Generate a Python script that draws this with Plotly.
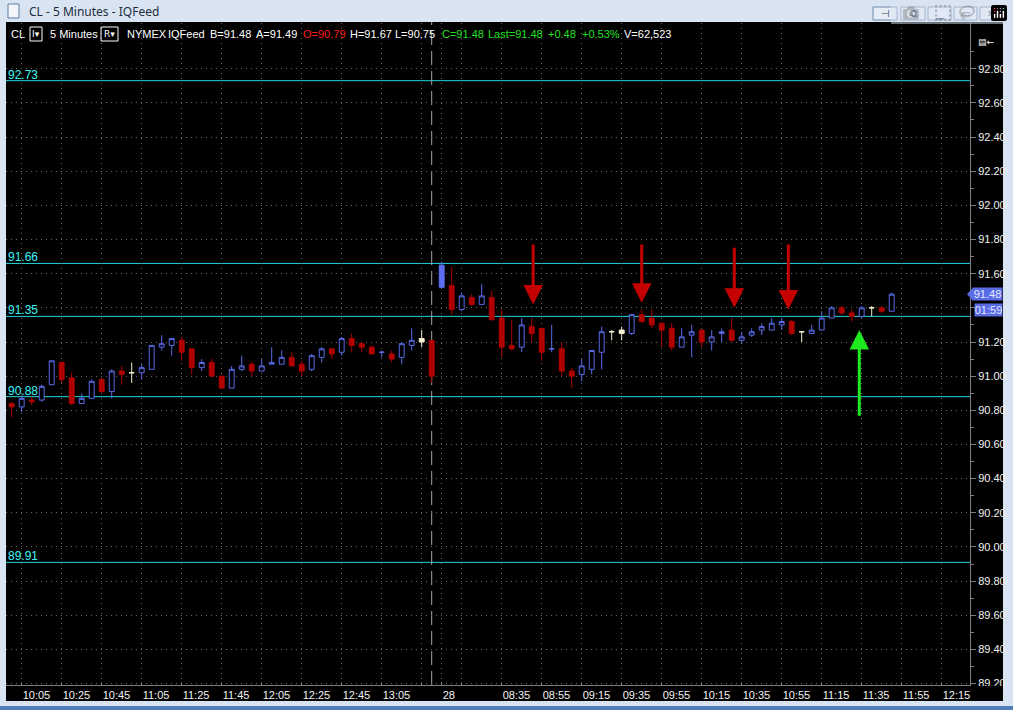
import plotly.graph_objects as go

# ---------------- data ----------------
opens = [90.84, 90.82, 90.86, 90.86, 90.95, 91.08, 90.99, 90.84, 90.87, 90.98,
         90.91, 91.03, 91.02, 91.02, 91.04, 91.17, 91.18, 91.21, 91.16, 91.05,
         91.08, 91.00, 90.93, 91.04, 91.07, 91.03, 91.07, 91.07, 91.11, 91.07,
         91.04, 91.11, 91.16, 91.14, 91.22, 91.19, 91.17, 91.14, 91.13, 91.11,
         91.18, 91.22, 91.21,
         91.52, 91.53, 91.39, 91.46, 91.42, 91.46, 91.34, 91.18, 91.17, 91.29,
         91.28, 91.16, 91.16, 91.03, 91.01, 91.04, 91.14, 91.26, 91.27, 91.25,
         91.36, 91.34, 91.31, 91.28, 91.17, 91.24, 91.27, 91.20, 91.25, 91.27,
         91.21, 91.24, 91.27, 91.27, 91.30, 91.32, 91.26, 91.25, 91.27, 91.34,
         91.40, 91.37, 91.35, 91.40, 91.40, 91.38]
highs = [90.85, 90.89, 90.88, 90.95, 91.09, 91.08, 91.02, 90.90, 90.98, 90.99,
         91.04, 91.06, 91.08, 91.07, 91.18, 91.24, 91.22, 91.23, 91.16, 91.10,
         91.10, 91.00, 91.06, 91.12, 91.08, 91.10, 91.17, 91.15, 91.14, 91.09,
         91.13, 91.17, 91.16, 91.23, 91.25, 91.20, 91.18, 91.15, 91.15, 91.20,
         91.28, 91.27, 91.21,
         91.67, 91.64, 91.49, 91.48, 91.54, 91.50, 91.39, 91.33, 91.34, 91.34,
         91.28, 91.30, 91.20, 91.05, 91.10, 91.15, 91.29, 91.27, 91.29, 91.36,
         91.39, 91.39, 91.31, 91.31, 91.28, 91.30, 91.27, 91.27, 91.28, 91.34,
         91.26, 91.28, 91.31, 91.34, 91.34, 91.33, 91.26, 91.30, 91.38, 91.41,
         91.41, 91.39, 91.41, 91.41, 91.41, 91.49]
lows = [90.76, 90.79, 90.83, 90.85, 90.95, 90.96, 90.83, 90.84, 90.87, 90.90,
        90.87, 90.95, 90.96, 90.98, 91.04, 91.15, 91.12, 91.09, 91.01, 91.03,
        91.00, 90.93, 90.93, 91.03, 91.00, 91.03, 91.07, 91.07, 91.06, 91.00,
        91.03, 91.08, 91.10, 91.12, 91.14, 91.14, 91.13, 91.11, 91.08, 91.07,
        91.15, 91.17, 90.96,
        91.52, 91.36, 91.38, 91.41, 91.42, 91.33, 91.11, 91.15, 91.14, 91.20,
        91.09, 91.14, 91.00, 90.93, 90.97, 91.01, 91.04, 91.21, 91.21, 91.24,
        91.31, 91.28, 91.17, 91.15, 91.17, 91.11, 91.17, 91.15, 91.20, 91.20,
        91.19, 91.23, 91.24, 91.27, 91.27, 91.24, 91.20, 91.25, 91.27, 91.34,
        91.36, 91.32, 91.34, 91.35, 91.37, 91.38]
closes = [90.82, 90.87, 90.85, 90.94, 91.09, 90.98, 90.84, 90.87, 90.97, 90.91,
          91.03, 91.01, 91.02, 91.05, 91.18, 91.19, 91.22, 91.14, 91.05, 91.08,
          91.00, 90.93, 91.04, 91.06, 91.03, 91.06, 91.08, 91.11, 91.06, 91.03,
          91.12, 91.16, 91.13, 91.22, 91.18, 91.17, 91.13, 91.14, 91.10, 91.19,
          91.21, 91.20, 91.00,
          91.65, 91.39, 91.47, 91.42, 91.47, 91.33, 91.17, 91.16, 91.30, 91.25,
          91.14, 91.16, 91.03, 91.00, 91.06, 91.15, 91.26, 91.26, 91.25, 91.36,
          91.32, 91.30, 91.27, 91.17, 91.23, 91.26, 91.20, 91.23, 91.26, 91.21,
          91.23, 91.26, 91.29, 91.31, 91.32, 91.25, 91.26, 91.27, 91.34, 91.40,
          91.37, 91.35, 91.40, 91.40, 91.38, 91.48]
# u = hollow blue, d = filled red, w = white/cream, b = filled blue
bar_kind = list("duduudduud" "udwuuuuddu" "dduuduuudd" "uududddudu" "uwd"
                "bdududddud" "dudduuuwwu" "dddduuduud" "uuuuudwuuu" "dduwdu")
assert len(bar_kind) == len(opens) == len(highs) == len(lows) == len(closes)

x_tick_pos = [1, 5, 9, 13, 17, 21, 25, 29, 33, 37, 41, 43, 45,
              49, 53, 57, 61, 65, 69, 73, 77, 81, 85, 89, 93]
x_tick_text = ["10:05", "10:25", "10:45", "11:05", "11:25", "11:45", "12:05",
               "12:25", "12:45", "13:05", "", "28", "",
               "08:35", "08:55", "09:15", "09:35", "09:55", "10:15", "10:35",
               "10:55", "11:15", "11:35", "11:55", "12:15"]
y_tick_vals = [89.2, 89.4, 89.6, 89.8, 90.0, 90.2, 90.4, 90.6, 90.8, 91.0,
               91.2, 91.4, 91.6, 91.8, 92.0, 92.2, 92.4, 92.6, 92.8]
levels = [92.73, 91.66, 91.35, 90.88, 89.91]
session_break = 42

red_arrow_x = [52.15, 63.0, 72.26, 77.66]
red_arrow_tip = [91.42, 91.43, 91.40, 91.39]
red_arrow_tail = [91.78, 91.78, 91.76, 91.78]
green_arrow_x = [84.76]
green_arrow_tip = [91.27]
green_arrow_tail = [90.76]

header_items = [("CL", 9, "#ffffff"), ("5 Minutes", 48, "#ffffff"),
                ("NYMEX", 125, "#ffffff"), ("IQFeed", 166, "#ffffff"),
                ("B=91.48", 208, "#ffffff"), ("A=91.49", 254, "#ffffff"),
                ("O=90.79", 301, "#ff1c1c"), ("H=91.67", 348, "#ffffff"),
                ("L=90.75", 393, "#ffffff"), ("C=91.48", 440, "#22e022"),
                ("Last=91.48", 486, "#22e022"), ("+0.48", 546, "#22e022"),
                ("+0.53%", 580, "#22e022"), ("V=62,523", 622, "#ffffff")]
remaining_time = "01:59"

# ---------------- geometry helpers ----------------
W, H = 1013, 710
PL, PR, PT, PB = 6, 970, 23, 685
Y_RANGE = [89.1918, 93.0677]
X_RANGE = [-0.57, 95.83]


def px(x):
    return (x - PL) / (PR - PL)


def py(y):
    return (PB - y) / (PB - PT)


def price_to_pix(p):
    return PB - (p - Y_RANGE[0]) / (Y_RANGE[1] - Y_RANGE[0]) * (PB - PT)


styles = {
    "u": ("#5a6ae6", "#000000"),
    "d": ("#b00000", "#b00000"),
    "w": ("#f4f0d2", "#f4f0d2"),
    "b": ("#5d6ff0", "#5d6ff0"),
}

fig = go.Figure()
idx = list(range(len(opens)))
for k, (lc, fc) in styles.items():
    sel = [i for i in idx if bar_kind[i] == k]
    fig.add_trace(go.Candlestick(
        x=sel,
        open=[opens[i] for i in sel], high=[highs[i] for i in sel],
        low=[lows[i] for i in sel], close=[closes[i] for i in sel],
        increasing=dict(line=dict(color=lc, width=1), fillcolor=fc),
        decreasing=dict(line=dict(color=lc, width=1), fillcolor=fc),
        whiskerwidth=0, showlegend=False, hoverinfo="skip"))

# price-box positions (the boxes hide the axis labels they cover)
yc = price_to_pix(closes[-1])
box_centers = [yc, yc + 16]
y_tick_text = [("" if any(abs(price_to_pix(v) - b) < 9 for b in box_centers) else f"{v:.2f}")
               for v in y_tick_vals]

shapes = []
# black chart window
shapes.append(dict(type="rect", xref="paper", yref="paper", x0=px(6), x1=px(1003),
                   y0=py(701), y1=py(22), fillcolor="#000000", line=dict(width=0),
                   layer="below"))
# bottom blue strip
shapes.append(dict(type="rect", xref="paper", yref="paper", x0=px(0), x1=px(1013),
                   y0=py(710), y1=py(706), fillcolor="#4f7db5", line=dict(width=0),
                   layer="below"))
# title icon
shapes.append(dict(type="rect", xref="paper", yref="paper", x0=px(8), x1=px(19),
                   y0=py(18), y1=py(4), fillcolor="#f2f6fb",
                   line=dict(color="#5d7fa6", width=1), layer="below"))
# window buttons
for bx0, bx1 in [(873, 897), (901, 925), (928, 951), (954, 977), (980, 1003)]:
    shapes.append(dict(type="rect", xref="paper", yref="paper", x0=px(bx0), x1=px(bx1),
                       y0=py(20), y1=py(7), fillcolor="#e6edf6",
                       line=dict(color="#7189a8", width=1), layer="above"))
# header dropdown boxes
for bx0, bx1 in [(30, 42), (101, 118)]:
    shapes.append(dict(type="rect", xref="paper", yref="paper", x0=px(bx0), x1=px(bx1),
                       y0=py(41), y1=py(27), fillcolor="rgba(0,0,0,0)",
                       line=dict(color="#ffffff", width=1), layer="above"))
# level lines
for lv in levels:
    shapes.append(dict(type="line", xref="paper", yref="y", x0=0, x1=1, y0=lv, y1=lv,
                       line=dict(color="#1fd6dc", width=1), layer="between"))
# session break dashed line
shapes.append(dict(type="line", xref="x", yref="paper", x0=session_break, x1=session_break,
                   y0=0, y1=py(22), line=dict(color="#a6a6a6", width=1, dash="14px,6px"),
                   layer="between"))
# cover bottom-right corner (clips the last price label)
shapes.append(dict(type="rect", xref="paper", yref="paper", x0=px(971), x1=px(1003),
                   y0=py(701), y1=py(686), fillcolor="#000000", line=dict(width=0),
                   layer="above"))
# last-price pointer
shapes.append(dict(type="path", xref="paper", yref="paper",
                   path="M {a},{b} L {c},{d} L {e},{f} Z".format(
                       a=px(973), b=py(yc - 6.5), c=px(967), d=py(yc), e=px(973), f=py(yc + 6.5)),
                   fillcolor="#5a6ce4", line=dict(width=0), layer="above"))

ann = []
# title bar
ann.append(dict(text="CL - 5 Minutes - IQFeed", x=px(27), y=py(12), xref="paper", yref="paper",
                xanchor="left", yanchor="middle", showarrow=False,
                font=dict(family="Noto Sans, DejaVu Sans", size=12, color="#1c2d40")))
for txt, bx in [("⊣", 885), ("⧉", 913), ("▁", 939.5), ("▭", 965.5), ("✕", 991.5)]:
    ann.append(dict(text=txt, x=px(bx), y=py(13.5), xref="paper", yref="paper",
                    xanchor="center", yanchor="middle", showarrow=False,
                    font=dict(family="DejaVu Sans", size=10, color="#2e4158")))
# header strip
for txt, bx, col in header_items:
    ann.append(dict(text=txt, x=px(bx), y=py(34), xref="paper", yref="paper",
                    xanchor="left", yanchor="middle", showarrow=False,
                    font=dict(family="Liberation Sans, Arial", size=11, color=col)))
for txt, bx in [("I▾", 36), ("R▾", 109.5)]:
    ann.append(dict(text=txt, x=px(bx), y=py(34), xref="paper", yref="paper",
                    xanchor="center", yanchor="middle", showarrow=False,
                    font=dict(family="DejaVu Sans", size=9, color="#ffffff")))
ann.append(dict(text="▤←", x=px(986), y=py(42), xref="paper", yref="paper",
                xanchor="center", yanchor="middle", showarrow=False,
                font=dict(family="DejaVu Sans", size=9, color="#ffffff")))
# level labels
for lv in levels:
    ann.append(dict(text=f"{lv:.2f}", x=px(6), y=lv, xref="paper", yref="y",
                    xanchor="left", yanchor="bottom", yshift=-3, showarrow=False,
                    font=dict(family="Liberation Sans, Arial", size=12, color="#3cf6f8")))
# price boxes
ann.append(dict(text=f"{closes[-1]:.2f}", x=px(988), y=closes[-1], xref="paper", yref="y",
                xanchor="center", yanchor="middle", showarrow=False, bgcolor="#5a6ce4",
                width=29, height=12, borderpad=0,
                font=dict(family="Liberation Sans, Arial", size=11, color="#e4e8ff")))
ann.append(dict(text=remaining_time, x=px(989), y=closes[-1], yshift=-16, xref="paper",
                yref="y", xanchor="center", yanchor="middle", showarrow=False,
                bgcolor="#5a6ce4", width=27, height=12, borderpad=0,
                font=dict(family="Liberation Sans, Arial", size=11, color="#e4e8ff")))
# arrows
for xa, tip, tail in zip(red_arrow_x, red_arrow_tip, red_arrow_tail):
    ann.append(dict(x=xa, y=tip, ax=xa, ay=tail, xref="x", yref="y", axref="x", ayref="y",
                    text="", showarrow=True, arrowhead=2, arrowsize=1.3, arrowwidth=3,
                    arrowcolor="#c40000", standoff=0))
for xa, tip, tail in zip(green_arrow_x, green_arrow_tip, green_arrow_tail):
    ann.append(dict(x=xa, y=tip, ax=xa, ay=tail, xref="x", yref="y", axref="x", ayref="y",
                    text="", showarrow=True, arrowhead=2, arrowsize=1.3, arrowwidth=3,
                    arrowcolor="#1ee81e", standoff=0))

minor_vals = [round(v + 0.1, 2) for v in y_tick_vals]

fig.update_layout(
    width=W, height=H,
    margin=dict(l=PL, r=W - PR, t=PT, b=H - PB, pad=0),
    paper_bgcolor="#d8e4f1", plot_bgcolor="#000000",
    font=dict(family="Liberation Sans, Arial", size=11, color="#f2f2f2"),
    showlegend=False,
    shapes=shapes, annotations=ann,
    xaxis=dict(range=X_RANGE, rangeslider=dict(visible=False), tickmode="array",
               tickvals=x_tick_pos, ticktext=x_tick_text, ticklabelposition="outside right",
               ticks="inside", ticklen=3, tickcolor="#808080", showgrid=True,
               gridcolor="#6a6a6a", griddash="1px,4px", gridwidth=1, showline=True,
               linecolor="#808080", linewidth=1, zeroline=False,
               tickfont=dict(size=11, color="#f2f2f2"), fixedrange=True),
    yaxis=dict(side="right", range=Y_RANGE, tickmode="array", tickvals=y_tick_vals,
               ticktext=y_tick_text, ticks="outside", ticklen=5, tickcolor="#808080",
               showgrid=True, gridcolor="#6a6a6a", griddash="1px,4px", gridwidth=1,
               showline=True, linecolor="#808080", linewidth=1, zeroline=False,
               tickfont=dict(size=11, color="#f2f2f2"), fixedrange=True,
               minor=dict(tickmode="array", tickvals=minor_vals, ticks="outside",
                          ticklen=3, tickcolor="#808080", showgrid=False)),
)

fig.write_html("out.html", post_script="document.body.style.margin='0';")
